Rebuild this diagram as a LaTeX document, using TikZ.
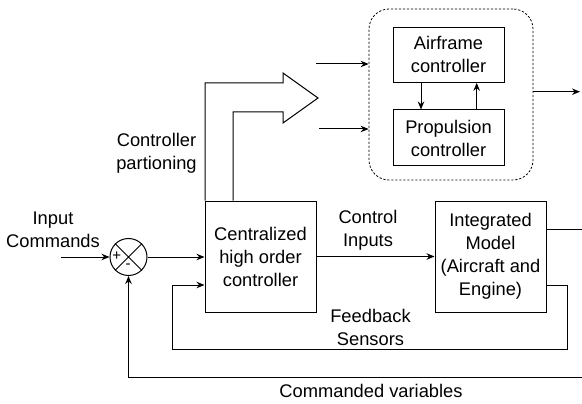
\documentclass[tikz,border=0pt]{standalone}
\usepackage{fontspec}
\setmainfont{Liberation Sans}
\usetikzlibrary{arrows.meta}
\begin{document}
\begin{tikzpicture}[x=1pt,y=-1pt,
  every node/.style={font=\fontsize{18.3}{23}\selectfont, align=center, inner sep=0pt},
  blk/.style={draw, line width=1pt, minimum width=111pt},
  arr/.style={-{Stealth[length=8pt,width=6.5pt]}},
  ln/.style={line width=1pt}]
\useasboundingbox (0,0) rectangle (582,404);
% dotted container
\node[draw, line width=0.8pt, dash pattern=on 2.2pt off 1.8pt, rounded corners=20pt,
      minimum width=164pt, minimum height=171pt] (dot) at (451,94.5) {};
\node[blk, minimum height=55pt] (air) at (448.5,54.8) {Airframe\\controller};
\node[blk, minimum height=56pt] (pro) at (448.5,138) {Propulsion\\controller};
% main blocks
\node[blk, minimum height=111pt] (cen) at (260.5,256.5) {Centralized\\high order\\controller};
\node[blk, minimum height=111pt] (int) at (490.5,256.5) {Integrated\\Model\\(Aircraft and\\Engine)};
\node[draw, circle, line width=1pt, minimum size=37pt] (sum) at (128.5,257) {};
\draw[line width=0.9pt] (sum.north west) -- (sum.south east) (sum.north east) -- (sum.south west);
\node[font=\fontsize{15}{15}\selectfont] (plus) at (116.8,256.5) {+};
\node[font=\fontsize{15}{15}\selectfont] (minus) at (128,266.5) {-};
% labels
\node (lin) at (53,229.5) {Input\\Commands};
\node (lcp) at (156.5,153.5) {Controller\\partioning};
\node (lci) at (368,230.5) {Control\\Inputs};
\node (lfs) at (370.5,327.5) {Feedback\\Sensors};
\node (lcv) at (371,391) {Commanded variables};
% coordinates
\coordinate (inp) at (61,257);
\coordinate (fbo) at (546,285);
\coordinate (outi) at (546,229);
\coordinate (outr) at (582,229);
\coordinate (cvr) at (582,377);
\coordinate (a1) at (316,64);
\coordinate (a2) at (319,129);
\coordinate (o1) at (533,91.7);
\coordinate (o2) at (580,91.7);
% connectors
\draw[ln,arr] (inp) -- (sum.west);
\draw[ln,arr] (sum.east) -- (cen.west |- sum.east);
\draw[ln,arr] (cen.east) -- (int.west);
\draw[ln,arr] (fbo) -| (567,349) -| (172,285) -- (cen.west |- 0,285);
\draw[ln] (outi) -- (outr);
\draw[ln,arr] (cvr) -| (sum.south);
\draw[ln,arr] (a1) -- (dot.west |- a1);
\draw[ln,arr] (a2) -- (dot.west |- a2);
\draw[ln,arr] (o1) -- (o2);
\draw[ln,arr] (air.south -| 421,0) -- (pro.north -| 421,0);
\draw[ln,arr] (pro.north -| 476.7,0) -- (air.south -| 476.7,0);
% bent arrow
\draw[ln, line join=miter] (cen.north -| 205,0) -- (205,83) -- (283,83) -- (283,73) -- (318,98)
  -- (283,123) -- (283,112) -- (233,112) -- (cen.north -| 233,0);
\end{tikzpicture}
\end{document}
